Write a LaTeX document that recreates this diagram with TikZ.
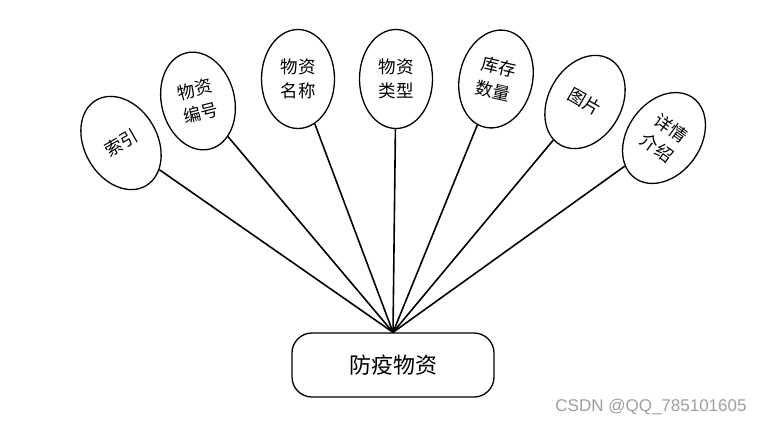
\documentclass[tikz,border=0pt]{standalone}
\usepackage{fontspec}
\newfontfamily\cjk{Noto Sans CJK SC}
\setsansfont{Liberation Sans}
\usetikzlibrary{shapes.geometric}
\begin{document}
\begin{tikzpicture}[x=1pt,y=-1pt,
  attr/.style={draw,ellipse,line width=1.3pt,minimum width=73pt,minimum height=99pt,inner sep=0pt,align=center,font=\cjk\fontsize{17.5}{24}\selectfont},
  ent/.style={draw,rounded corners=20pt,line width=1.3pt,minimum width=202pt,minimum height=64pt,font=\cjk\fontsize{22}{25}\selectfont},
  link/.style={line width=1.6pt}]
\useasboundingbox (0,0) rectangle (763,426);
\node[ent] (box) at (393,365) {防疫物资};
\node[attr,rotate=30] (a1) at (121,143) {索引};
\node[attr,rotate=14] (a2) at (198,101) {物资\\编号};
\node[attr] (a3) at (298,79) {物资\\名称};
\node[attr] (a4) at (396,79) {物资\\类型};
\node[attr,rotate=-13] (a5) at (496,79) {库存\\数量};
\node[attr,rotate=-30] (a6) at (585,102) {图片};
\node[attr,rotate=-36] (a7) at (664,138) {详情\\介绍};
\foreach \i in {1,...,7} \draw[link] (a\i) -- (box.north);
\node[font=\sffamily\fontsize{17}{17}\selectfont,text=black!38] (wm) at (651,407) {CSDN @QQ\_785101605};
\end{tikzpicture}
\end{document}
